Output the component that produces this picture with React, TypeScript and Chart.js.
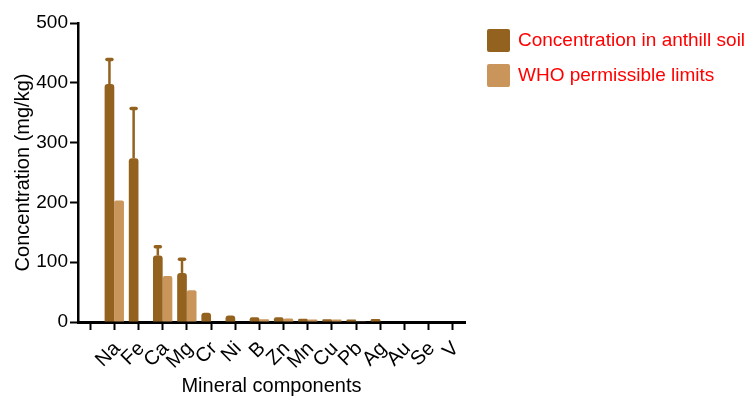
import React, { useEffect, useRef } from "react";
import { Chart, registerables } from "chart.js";

Chart.register(...registerables);

const categories = ["", "Na", "Fe", "Ca", "Mg", "Cr", "Ni", "B", "Zn", "Mn", "Cu", "Pb", "Ag", "Au", "Se", "V"];
const anthillValues = [null, 398, 274, 111, 82, 15.5, 11, 8, 8, 5.5, 4.5, 4, 5, 0, 0, 0];
const anthillErrors = [0, 41, 83, 15, 23, 0, 0, 0, 0, 0, 0, 0, 0, 0, 0, 0];
const whoValues = [null, 203, 0, 77, 53, 0, 0, 4.5, 6, 4, 4, 0.5, 0, 0, 0, 0];
const seriesNames = ["Concentration in anthill soil", "WHO permissible limits"];
const yTicks = [0, 100, 200, 300, 400, 500];

const DARK = "#93621F";
const LIGHT = "#C9955A";
const FONT = "'Liberation Sans', Arial, sans-serif";

const errorBarPlugin = {
  id: "errorBars",
  afterDatasetsDraw(chart: any) {
    const meta = chart.getDatasetMeta(0);
    const y = chart.scales.y;
    const ctx = chart.ctx;
    ctx.save();
    ctx.strokeStyle = DARK;
    ctx.fillStyle = DARK;
    meta.data.forEach((bar: any, i: number) => {
      const v = anthillValues[i];
      const e = anthillErrors[i];
      if (v == null || !e) return;
      const y0 = y.getPixelForValue(v);
      const y1 = y.getPixelForValue(v + e);
      ctx.lineWidth = 2.5;
      ctx.lineCap = "butt";
      ctx.beginPath();
      ctx.moveTo(bar.x, y0);
      ctx.lineTo(bar.x, y1);
      ctx.stroke();
      ctx.lineWidth = 3.5;
      ctx.lineCap = "round";
      ctx.beginPath();
      ctx.moveTo(bar.x - 2.5, y1);
      ctx.lineTo(bar.x + 2.5, y1);
      ctx.stroke();
    });
    ctx.restore();
  },
};

const legendPlugin = {
  id: "customLegend",
  afterDraw(chart: any) {
    const ctx = chart.ctx;
    const colors = [DARK, LIGHT];
    const x0 = chart.chartArea.right + 22;
    const top = chart.chartArea.top + 6;
    ctx.save();
    seriesNames.forEach((name, i) => {
      const yy = top + i * 35;
      ctx.fillStyle = colors[i];
      ctx.beginPath();
      (ctx as any).roundRect(x0, yy, 23, 23, 2);
      ctx.fill();
      ctx.fillStyle = "#FF0000";
      ctx.font = `19px ${FONT}`;
      ctx.textAlign = "left";
      ctx.textBaseline = "middle";
      ctx.fillText(name, x0 + 31, yy + 12);
    });
    ctx.restore();
  },
};

export default function App() {
  const ref = useRef<HTMLCanvasElement>(null);
  useEffect(() => {
    if (!ref.current) return;
    const chart = new Chart(ref.current, {
      type: "bar",
      data: {
        labels: categories,
        datasets: [
          {
            label: seriesNames[0],
            data: anthillValues as any,
            backgroundColor: DARK,
            borderRadius: { topLeft: 3, topRight: 3, bottomLeft: 0, bottomRight: 0 },
            borderSkipped: false,
            categoryPercentage: 0.8,
            barPercentage: 1.0,
          },
          {
            label: seriesNames[1],
            data: whoValues as any,
            backgroundColor: LIGHT,
            borderRadius: { topLeft: 2, topRight: 2, bottomLeft: 0, bottomRight: 0 },
            borderSkipped: false,
            categoryPercentage: 0.8,
            barPercentage: 1.0,
          },
        ],
      },
      options: {
        responsive: false,
        animation: false,
        layout: { padding: { top: 23, right: 287, left: 0, bottom: 0 } },
        plugins: { legend: { display: false }, tooltip: { enabled: false } },
        scales: {
          x: {
            type: "category",
            offset: true,
            grid: {
              offset: false,
              drawOnChartArea: false,
              tickLength: 8,
              tickColor: "#000",
              tickWidth: 2,
            },
            border: { color: "#000", width: 3 },
            ticks: {
              autoSkip: false,
              minRotation: 45,
              maxRotation: 45,
              color: "#000",
              padding: 7,
              labelOffset: 3,
              font: { family: FONT, size: 20 },
            },
            title: {
              display: true,
              text: "Mineral components",
              color: "#000",
              font: { family: FONT, size: 20 },
              padding: { top: 0, bottom: 0 },
            },
            afterFit: (s: any) => {
              s.height = 76;
            },
          },
          y: {
            min: 0,
            max: 500,
            afterBuildTicks: (s: any) => {
              s.ticks = yTicks.map((v) => ({ value: v }));
            },
            grid: {
              drawOnChartArea: false,
              tickLength: 8,
              tickColor: "#000",
              tickWidth: 2,
            },
            border: { color: "#000", width: 2.5 },
            ticks: {
              color: "#000",
              padding: 2,
              font: { family: FONT, size: 19 },
            },
            title: {
              display: true,
              text: "Concentration (mg/kg)",
              color: "#000",
              font: { family: FONT, size: 20 },
              padding: { top: 11, bottom: 0 },
            },
            afterFit: (s: any) => {
              s.width = 78;
            },
          },
        },
      },
      plugins: [errorBarPlugin, legendPlugin],
    });
    return () => chart.destroy();
  }, []);
  return (
    <div style={{ position: "fixed", left: 0, top: 0, width: 752, height: 398, background: "#fff" }}>
      <canvas ref={ref} width={752} height={398} style={{ width: 752, height: 398 }} />
    </div>
  );
}
